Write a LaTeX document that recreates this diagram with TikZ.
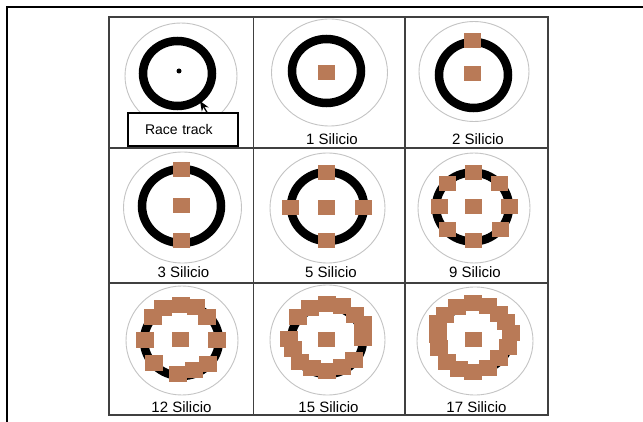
\documentclass[tikz,border=0pt]{standalone}
\usepackage{fontspec}
\setmainfont{Liberation Sans}
\usetikzlibrary{arrows.meta}
\definecolor{silc}{HTML}{B97A57}
\definecolor{gridc}{HTML}{404040}
\definecolor{grayc}{HTML}{C4C4C4}
\newcommand\ringat[4]{\draw[ringst] (#1,#2) ellipse [x radius=#3pt, y radius=#4pt];}
\newcommand\outerat[4]{\draw[outst] (#1,#2) ellipse [x radius=#3pt, y radius=#4pt];}
\newcommand\silA[2]{\fill[silc] (#1,#2) ++(-8.5,-7.5) rectangle ++(17,15);}
\newcommand\silB[2]{\fill[silc] (#1,#2) ++(-9,-8) rectangle ++(18,16);}
\begin{document}
\begin{tikzpicture}[x=1pt,y=-1pt,
  ringst/.style={line width=8.5pt, black},
  outst/.style={line width=0.9pt, grayc},
  gridline/.style={gridc, line width=1.1pt},
  lab/.style={font=\fontsize{15}{18}\selectfont, anchor=base, inner sep=0pt}]
\useasboundingbox (0,0) rectangle (643,422);
\fill[white] (0,0) rectangle (643,422);
% outer frame
\draw[line width=2.2pt, line join=miter] (7,422) -- (7,7) -- (643,7);
% grid
\draw[gridline] (109,17) rectangle (548,415);
\draw[gridline] (253.5,17) -- (253.5,415) (405,17) -- (405,415)
                (109,148) -- (548,148) (109,283) -- (548,283);
% cell 1
\outerat{181}{76}{56}{53}
\ringat{177.5}{73.5}{34.5}{32.5}
\fill (179,71) circle[radius=2.5pt];
\node[draw, line width=1.4pt, fill=white, minimum height=33pt, text width=76pt,
      inner xsep=17pt, inner ysep=0pt, align=left,
      font=\fontsize{14}{16}\selectfont] (rt) at (183,129.5) {Race track};
\coordinate (tip) at (200,101);
\draw[line width=1.3pt, -{Stealth[length=10pt,width=8pt]}] ([xshift=24pt]rt.north) -- (tip);
% cell 2
\outerat{329.5}{72.5}{58}{53.5}
\ringat{326.5}{71}{34.5}{32}
\silA{326.5}{72.5}
\node[lab] (l1) at (332,145) {1 Silicio};
% cell 3
\outerat{474}{71.5}{55}{50}
\ringat{473.5}{75}{34.5}{33}
\silA{472.5}{41}
\silA{472.5}{73.5}
\node[lab] (l2) at (478,145) {2 Silicio};
% cell 4
\outerat{182.5}{207.5}{59}{55.5}
\ringat{181.5}{206}{39.5}{37}
\silA{181}{169.5}\silA{181.5}{205.5}\silA{181.5}{240.5}
\node[lab] (l3) at (183.5,277.5) {3 Silicio};
% cell 5
\outerat{327.5}{208}{57.5}{55}
\ringat{327.5}{206.5}{36.5}{34.5}
\silA{326.5}{172.5}\silA{290.5}{207.5}\silA{363.5}{207.5}\silA{326.5}{240.5}\silA{326.5}{207.5}
\node[lab] (l5) at (331,277.5) {5 Silicio};
% cell 6
\outerat{474}{208}{56}{55}
\ringat{472.5}{207}{36.5}{34.5}
\silA{473.5}{172.5}\silA{447}{183.5}\silA{439}{207}\silA{447}{230}
\silA{473.5}{240.5}\silA{509.5}{207}\silA{499.5}{183.5}\silA{500.5}{230}\silA{473.5}{207}
\node[lab] (l9) at (475,277.5) {9 Silicio};
% cell 7
\outerat{182}{340.5}{56}{54.5}
\ringat{181.5}{340.5}{37.5}{35.5}
\silB{163.3}{308.3}\silB{180.8}{305}\silB{195.8}{307.3}\silB{152.5}{317.2}\silB{206.7}{317.2}
\silB{145}{339.7}\silB{216.7}{339.7}\silB{154.2}{363.3}\silB{208.3}{364.2}\silB{178.3}{374}
\silB{194.2}{370}\silA{180.5}{339.5}
\node[lab] (l12) at (181.5,412.5) {12 Silicio};
% cell 8
\outerat{327.5}{340}{57.5}{55}
\ringat{327}{340}{36}{34}
\silB{297.5}{316.7}\silB{310}{308.3}\silB{326.7}{303.7}\silB{341.7}{306.3}\silB{355}{315}
\silB{362.5}{324.5}\silB{363.3}{338.3}\silB{289}{339.2}\silB{292.5}{349.2}\silB{300}{362.2}
\silB{311.7}{368.3}\silB{326.7}{371.2}\silB{341.7}{366.7}\silB{354.2}{360.3}\silA{326.7}{339.2}
\node[lab] (l15) at (328.5,412) {15 Silicio};
% cell 9
\outerat{475}{341}{58}{54}
\ringat{474}{338}{36}{33}
\silB{437.5}{323.3}\silB{445}{315}\silB{456.7}{307.3}\silB{473.3}{303.3}\silB{488.3}{306.3}
\silB{499.2}{314}\silB{505.8}{321.7}\silB{511}{333.3}\silB{508.3}{346.5}\silB{437.5}{335}
\silB{439}{347.5}\silB{446.7}{361.7}\silB{459.2}{369.2}\silB{473.3}{372.2}\silB{487.5}{367.5}
\silB{499.2}{358}\silA{473.3}{339.2}
\node[lab] (l17) at (476.5,412.5) {17 Silicio};
\end{tikzpicture}
\end{document}
